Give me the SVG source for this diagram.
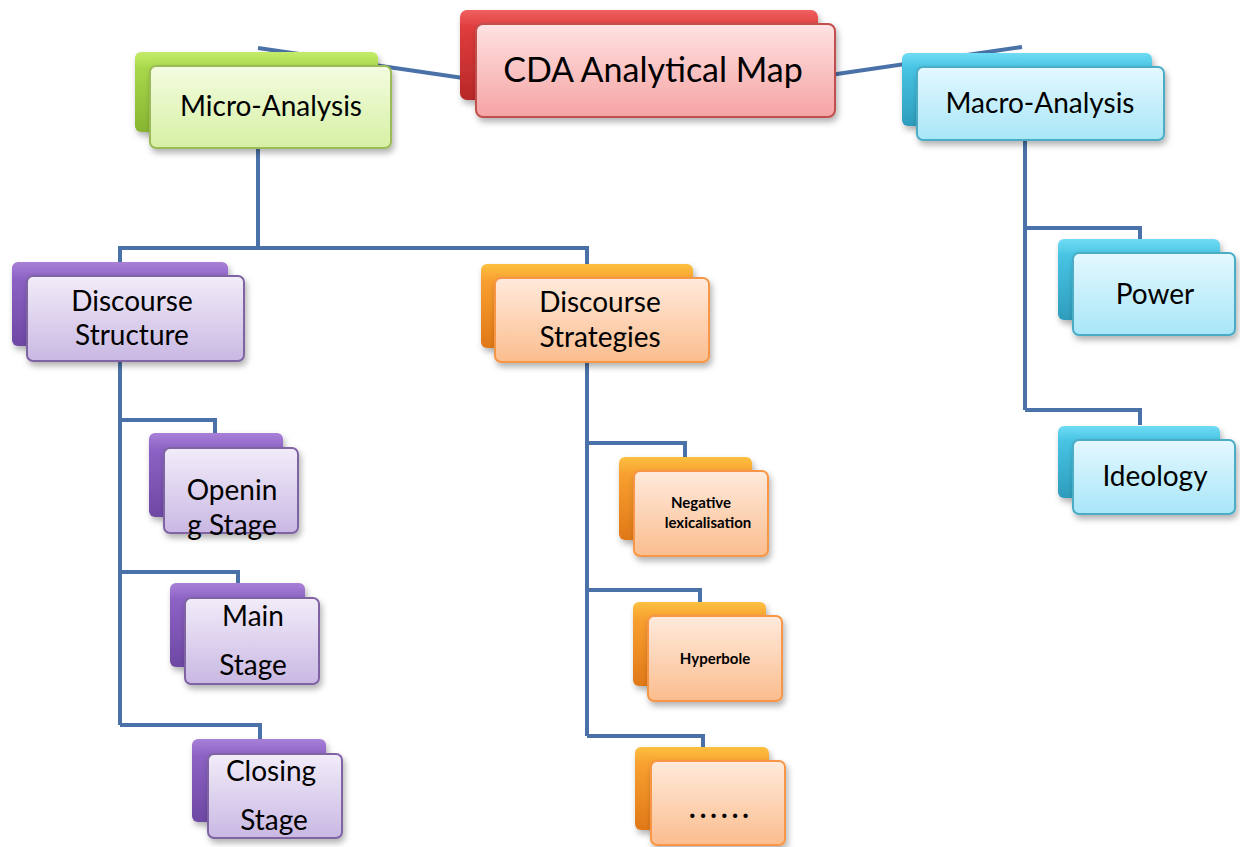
<svg xmlns="http://www.w3.org/2000/svg" width="1240" height="847" viewBox="0 0 1240 847">
<defs>
<linearGradient id="gRedB" x1="0" y1="0" x2="0" y2="1"><stop offset="0" stop-color="#f06060"/><stop offset="0.2" stop-color="#e03c3c"/><stop offset="1" stop-color="#b82828"/></linearGradient>
<linearGradient id="gRedF" x1="0" y1="0" x2="0" y2="1"><stop offset="0" stop-color="#ffe2e2"/><stop offset="1" stop-color="#f5a3a3"/></linearGradient>
<linearGradient id="gGrnB" x1="0" y1="0" x2="0" y2="1"><stop offset="0" stop-color="#c4ec6a"/><stop offset="0.2" stop-color="#a8d84a"/><stop offset="1" stop-color="#88b432"/></linearGradient>
<linearGradient id="gGrnF" x1="0" y1="0" x2="0" y2="1"><stop offset="0" stop-color="#f4fce0"/><stop offset="1" stop-color="#d6f0a4"/></linearGradient>
<linearGradient id="gBluB" x1="0" y1="0" x2="0" y2="1"><stop offset="0" stop-color="#70dcf4"/><stop offset="0.2" stop-color="#48c4e4"/><stop offset="1" stop-color="#2e9cbc"/></linearGradient>
<linearGradient id="gBluF" x1="0" y1="0" x2="0" y2="1"><stop offset="0" stop-color="#e4f8ff"/><stop offset="1" stop-color="#a8e6f8"/></linearGradient>
<linearGradient id="gPurB" x1="0" y1="0" x2="0" y2="1"><stop offset="0" stop-color="#a880d8"/><stop offset="0.2" stop-color="#8c62c4"/><stop offset="1" stop-color="#6e48a4"/></linearGradient>
<linearGradient id="gPurF" x1="0" y1="0" x2="0" y2="1"><stop offset="0" stop-color="#f2ecf9"/><stop offset="1" stop-color="#c9b8e3"/></linearGradient>
<linearGradient id="gOrgB" x1="0" y1="0" x2="0" y2="1"><stop offset="0" stop-color="#fcc040"/><stop offset="0.2" stop-color="#f8a030"/><stop offset="1" stop-color="#e07818"/></linearGradient>
<linearGradient id="gOrgF" x1="0" y1="0" x2="0" y2="1"><stop offset="0" stop-color="#ffeadc"/><stop offset="1" stop-color="#fbbd8e"/></linearGradient>
<filter id="sh" x="-10%" y="-10%" width="130%" height="140%"><feDropShadow dx="2" dy="4" stdDeviation="3" flood-color="#000" flood-opacity="0.3"/></filter>
</defs>
<style>
.c{fill:none;stroke:#4a72a8;stroke-width:4;stroke-linejoin:miter}
.b,.f{filter:url(#sh)}
.f{stroke-width:2}
.red .b{fill:url(#gRedB)} .red .f{fill:url(#gRedF);stroke:#c0504d}
.grn .b{fill:url(#gGrnB)} .grn .f{fill:url(#gGrnF);stroke:#9bbb59}
.blu .b{fill:url(#gBluB)} .blu .f{fill:url(#gBluF);stroke:#4bacc6}
.pur .b{fill:url(#gPurB)} .pur .f{fill:url(#gPurF);stroke:#8064a2}
.org .b{fill:url(#gOrgB)} .org .f{fill:url(#gOrgF);stroke:#f79646}
text{font-family:Lato,"Liberation Sans",sans-serif;fill:#000;text-anchor:middle}
.t{font-size:28px}
.s{font-size:15px;font-weight:bold}
</style>
<g id="connectors">
<path class="c" d="M258,48 L470,79"/>
<path class="c" d="M1022,47 L830,75"/>
<path class="c" d="M258,148 V248 M120,265 V248 H587 V265"/>
<path class="c" d="M120,361 V725 M120,420 H215 V434 M120,572 H238 V585 M120,725 H260 V740"/>
<path class="c" d="M587,362 V736 M587,443 H685 V458 M587,590 H700 V604 M587,736 H703 V750"/>
<path class="c" d="M1025,140 V410 M1025,228 H1140 V240 M1025,410 H1140 V425"/>
</g>
<g id="root" class="red">
<rect class="b" x="460" y="10" width="358" height="90" rx="7"/>
<rect class="f" x="476" y="24" width="359" height="93" rx="7"/>
<text x="653" y="82" style="font-size:34px">CDA Analytical Map</text>
</g>
<g id="micro" class="grn">
<rect class="b" x="135" y="52" width="243" height="80" rx="6"/>
<rect class="f" x="150" y="66" width="241" height="82" rx="6"/>
<text class="t" x="271" y="116">Micro-Analysis</text>
</g>
<g id="macro" class="blu">
<rect class="b" x="902" y="53" width="250" height="73" rx="6"/>
<rect class="f" x="917" y="67" width="247" height="73" rx="6"/>
<text class="t" x="1040" y="113">Macro-Analysis</text>
</g>
<g id="structure" class="pur">
<rect class="b" x="12" y="262" width="216" height="84" rx="6"/>
<rect class="f" x="27" y="276" width="217" height="85" rx="6"/>
<text class="t" x="132" y="311">Discourse</text>
<text class="t" x="132" y="345">Structure</text>
</g>
<g id="strategies" class="org">
<rect class="b" x="481" y="264" width="212" height="84" rx="6"/>
<rect class="f" x="495" y="278" width="214" height="84" rx="6"/>
<text class="t" x="600" y="312">Discourse</text>
<text class="t" x="600" y="347">Strategies</text>
</g>
<g id="opening" class="pur">
<rect class="b" x="149" y="433" width="134" height="84" rx="6"/>
<rect class="f" x="164" y="448" width="134" height="85" rx="6"/>
<text class="t" x="232" y="500">Openin</text>
<text class="t" x="232" y="535">g Stage</text>
</g>
<g id="main" class="pur">
<rect class="b" x="170" y="583" width="135" height="84" rx="6"/>
<rect class="f" x="185" y="598" width="134" height="86" rx="6"/>
<text class="t" x="253" y="626">Main</text>
<text class="t" x="253" y="675">Stage</text>
</g>
<g id="closing" class="pur">
<rect class="b" x="192" y="739" width="134" height="83" rx="6"/>
<rect class="f" x="208" y="754" width="134" height="84" rx="6"/>
<text class="t" x="271" y="781">Closing</text>
<text class="t" x="274" y="830">Stage</text>
</g>
<g id="negative" class="org">
<rect class="b" x="619" y="457" width="133" height="83" rx="6"/>
<rect class="f" x="634" y="471" width="134" height="85" rx="6"/>
<text class="s" x="701" y="508">Negative</text>
<text class="s" x="708" y="528">lexicalisation</text>
</g>
<g id="hyperbole" class="org">
<rect class="b" x="633" y="602" width="133" height="84" rx="6"/>
<rect class="f" x="648" y="616" width="134" height="85" rx="6"/>
<text class="s" x="715" y="664">Hyperbole</text>
</g>
<g id="more" class="org">
<rect class="b" x="635" y="747" width="134" height="83" rx="6"/>
<rect class="f" x="651" y="761" width="134" height="84" rx="6"/>
<text x="721" y="818" style="font-size:28px;font-weight:bold;letter-spacing:4px">......</text>
</g>
<g id="power" class="blu">
<rect class="b" x="1058" y="239" width="162" height="81" rx="6"/>
<rect class="f" x="1073" y="253" width="162" height="82" rx="6"/>
<text class="t" x="1155" y="304">Power</text>
</g>
<g id="ideology" class="blu">
<rect class="b" x="1058" y="426" width="162" height="72" rx="6"/>
<rect class="f" x="1073" y="440" width="162" height="74" rx="6"/>
<text class="t" x="1155" y="486">Ideology</text>
</g>
</svg>
